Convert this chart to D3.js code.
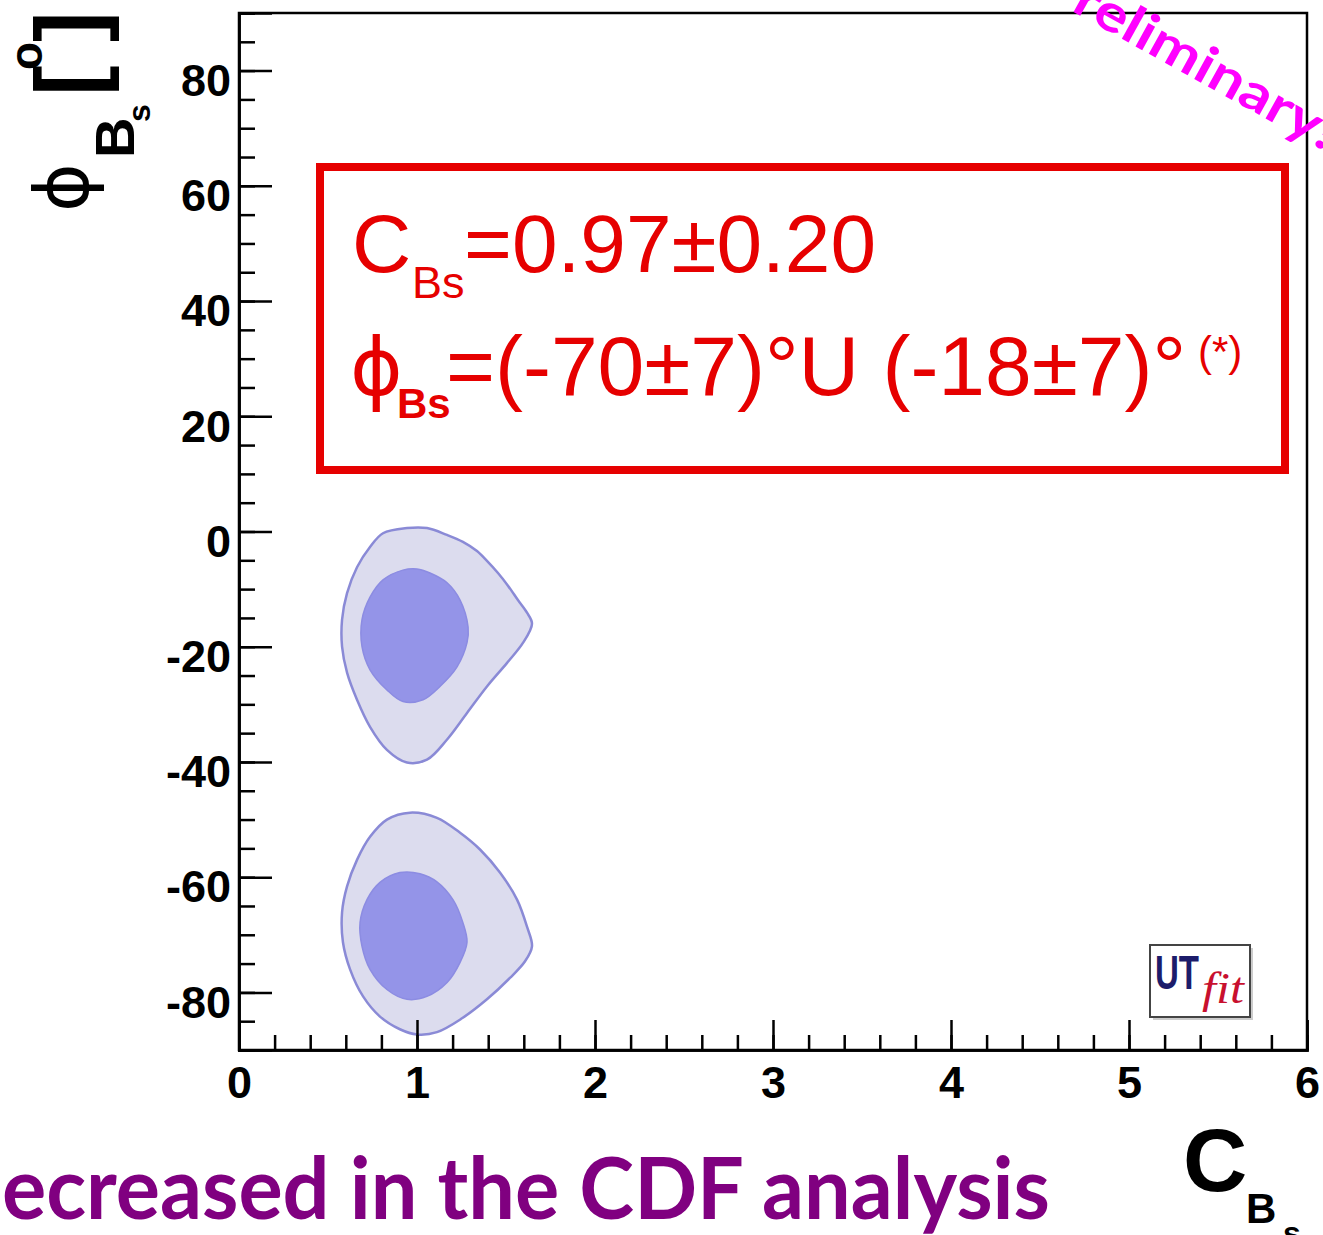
<!DOCTYPE html>
<meta charset="utf-8">
<style>
body { margin: 0; background: #fff; }
svg { display: block; }
.axis text { font-family: "Liberation Sans", Arial, sans-serif; font-weight: bold; font-size: 45px; fill: #000; }
.axis path, .axis line { stroke: #000; stroke-width: 2.5; }
.boxtxt { font-family: "Liberation Sans", Arial, sans-serif; fill: #e60000; }
</style>
<body>
<script src="https://d3js.org/d3.v7.min.js"></script>
<script>
// tick labels
var xTicks = [0, 1, 2, 3, 4, 5, 6];
var yTicks = [-80, -60, -40, -20, 0, 20, 40, 60, 80];

// contour outlines, [C_Bs, phi_Bs]
var upperOuter = [[0.944,0.6],[0.809,-0.3],[0.736,-2.7],[0.663,-6.2],[0.607,-10.7],[0.579,-15.3],[0.579,-20.0],[0.607,-24.5],[0.663,-29.2],[0.736,-33.9],[0.831,-37.9],[0.944,-40.1],[1.056,-39.6],[1.169,-36.1],[1.281,-31.5],[1.393,-26.9],[1.506,-22.8],[1.596,-19.3],[1.646,-16.0],[1.618,-14.1],[1.567,-11.9],[1.511,-9.4],[1.455,-7.2],[1.393,-5.1],[1.337,-3.4],[1.258,-1.8],[1.169,-0.6],[1.056,0.6]];
var upperInner = [[0.921,-6.7],[0.809,-8.4],[0.736,-11.4],[0.691,-15.3],[0.691,-20.0],[0.736,-24.0],[0.831,-27.5],[0.921,-29.5],[1.034,-29.2],[1.129,-26.9],[1.225,-23.5],[1.281,-19.3],[1.287,-16.6],[1.242,-11.9],[1.169,-8.9],[1.073,-7.2],[1.0,-6.5]];
var lowerOuter = [[0.961,-48.8],[0.831,-50.0],[0.736,-53.0],[0.663,-57.0],[0.607,-61.6],[0.579,-66.1],[0.584,-71.3],[0.624,-76.0],[0.697,-80.7],[0.792,-84.2],[0.904,-86.4],[1.0,-87.3],[1.112,-86.9],[1.253,-84.5],[1.393,-81.2],[1.522,-77.5],[1.607,-74.6],[1.646,-72.0],[1.618,-68.6],[1.562,-63.9],[1.466,-59.2],[1.354,-55.2],[1.242,-52.3],[1.112,-49.7]];
var lowerInner = [[0.904,-59.2],[0.792,-60.9],[0.719,-63.9],[0.680,-67.9],[0.691,-72.0],[0.736,-76.0],[0.831,-79.5],[0.944,-81.2],[1.056,-80.7],[1.169,-78.3],[1.242,-74.8],[1.281,-71.3],[1.258,-67.9],[1.202,-63.9],[1.112,-60.8],[1.017,-59.4]];

var W = 1323, H = 1235;
var m = {left: 239, right: 1307, top: 13, bottom: 1050};

var x = d3.scaleLinear().domain([0, 6]).range([m.left, m.right]);
var y = d3.scaleLinear().domain([-90, 90]).range([m.bottom, m.top]);

var svg = d3.select("body").append("svg")
    .attr("width", W)
    .attr("height", H);

// contours
var line = d3.line()
    .x(function(d) { return x(d[0]); })
    .y(function(d) { return y(d[1]); })
    .curve(d3.curveCatmullRomClosed);

[upperOuter, lowerOuter].forEach(function(c) {
  svg.append("path").attr("d", line(c))
    .attr("fill", "#dcdcee").attr("stroke", "#8a8ad6").attr("stroke-width", 2.5);
});
[upperInner, lowerInner].forEach(function(c) {
  svg.append("path").attr("d", line(c))
    .attr("fill", "#9494e8").attr("stroke", "#8c8ce2").attr("stroke-width", 1.5);
});

// frame
svg.append("rect")
    .attr("x", m.left).attr("y", m.top)
    .attr("width", m.right - m.left).attr("height", m.bottom - m.top)
    .attr("fill", "none").attr("stroke", "#000").attr("stroke-width", 2.5);

// minor ticks
svg.append("g").attr("class", "axis")
    .attr("transform", "translate(0," + m.bottom + ")")
    .call(d3.axisBottom(x).ticks(30).tickSize(-15).tickFormat(""));
svg.append("g").attr("class", "axis")
    .attr("transform", "translate(" + m.left + ",0)")
    .call(d3.axisLeft(y).ticks(36).tickSize(-16).tickFormat(""));

// major ticks + labels
svg.append("g").attr("class", "axis")
    .attr("transform", "translate(0," + m.bottom + ")")
    .call(d3.axisBottom(x).tickValues(xTicks).tickSize(-30).tickPadding(16).tickFormat(d3.format("d")));
svg.append("g").attr("class", "axis")
    .attr("transform", "translate(" + m.left + ",0)")
    .call(d3.axisLeft(y).tickValues(yTicks).tickSize(-33).tickPadding(8).tickFormat(function(d) { return String(d); }))
  .selectAll("text").attr("dy", "0.55em").attr("font-size", 46);

svg.selectAll(".axis .domain").attr("stroke-width", 3);

// axis titles
var xt = svg.append("text")
    .attr("font-family", "Liberation Sans, Arial, sans-serif")
    .attr("font-weight", "bold");
xt.append("tspan").attr("x", 1183).attr("y", 1191).attr("font-size", 89).text("C");
xt.append("tspan").attr("x", 1246).attr("y", 1223).attr("font-size", 42).text("B");
xt.append("tspan").attr("x", 1283).attr("y", 1244).attr("font-size", 32).text("s");

var ytt = svg.append("text")
    .attr("transform", "translate(88,210) rotate(-90)")
    .attr("font-family", "Liberation Sans, Arial, sans-serif")
    .attr("font-weight", "bold");
ytt.append("tspan").attr("x", -2).attr("y", 0).attr("font-size", 74)
    .attr("font-family", "DejaVu Sans, sans-serif").attr("font-weight", "normal").text("\u03d5");
ytt.append("tspan").attr("x", 52).attr("y", 46).attr("font-size", 56).text("B");
ytt.append("tspan").attr("x", 88).attr("y", 62).attr("font-size", 32).text("s");
ytt.append("tspan").attr("x", 114).attr("y", 12).attr("font-size", 92).text("[");
ytt.append("tspan").attr("x", 140).attr("y", -46).attr("font-size", 46).text("o");
ytt.append("tspan").attr("x", 168).attr("y", 12).attr("font-size", 92).text("]");

// result box
svg.append("rect")
    .attr("x", 320).attr("y", 167).attr("width", 965).attr("height", 303)
    .attr("fill", "#fff").attr("stroke", "#e60000").attr("stroke-width", 8);

var l1 = svg.append("text").attr("class", "boxtxt");
l1.append("tspan").attr("x", 352).attr("y", 272).attr("font-size", 82).text("C");
l1.append("tspan").attr("x", 412).attr("y", 298).attr("font-size", 45).text("Bs");
l1.append("tspan").attr("x", 464).attr("y", 272).attr("font-size", 82).text("=0.97\u00b10.20");

var l2 = svg.append("text").attr("class", "boxtxt");
l2.append("tspan").attr("x", 350).attr("y", 395).attr("font-size", 80)
    .attr("font-family", "DejaVu Sans, sans-serif").text("\u03d5");
l2.append("tspan").attr("x", 397).attr("y", 418).attr("font-size", 42)
    .attr("font-weight", "bold").text("Bs");
l2.append("tspan").attr("x", 446).attr("y", 395).attr("font-size", 84)
    .attr("textLength", 740).attr("lengthAdjust", "spacing")
    .text("=(-70\u00b17)\u00b0U (-18\u00b17)\u00b0");
l2.append("tspan").attr("x", 1198).attr("y", 366).attr("font-size", 42).text("(*)");

// UTfit logo
var logo = svg.append("g").attr("transform", "translate(1150,945)");
logo.append("rect").attr("x", 3).attr("y", 3).attr("width", 100).attr("height", 72).attr("fill", "#ccc");
logo.append("rect").attr("width", 100).attr("height", 72).attr("fill", "#fff")
    .attr("stroke", "#444").attr("stroke-width", 2);
logo.append("text").attr("x", 5).attr("y", 44)
    .attr("textLength", 44).attr("lengthAdjust", "spacingAndGlyphs")
    .attr("font-family", "Liberation Sans Narrow, Liberation Sans, Arial, sans-serif").attr("font-weight", "bold")
    .attr("font-size", 48).attr("fill", "#1c1c6a").text("UT");
logo.append("text").attr("x", 52).attr("y", 58)
    .attr("textLength", 42).attr("lengthAdjust", "spacingAndGlyphs")
    .attr("font-family", "Liberation Serif, serif").attr("font-style", "italic")
    .attr("font-size", 44).attr("fill", "#c8102e").text("fit");

// overlays
svg.append("text")
    .attr("transform", "translate(1326,152) rotate(29)")
    .attr("text-anchor", "end")
    .attr("textLength", 330).attr("lengthAdjust", "spacingAndGlyphs")
    .attr("font-family", "Lato, sans-serif").attr("font-weight", "bold")
    .attr("font-size", 52).attr("fill", "#ff00ff")
    .text("Preliminary!");

svg.append("text")
    .attr("x", 2).attr("y", 1219)
    .attr("textLength", 1048).attr("lengthAdjust", "spacingAndGlyphs")
    .attr("font-family", "Lato, sans-serif").attr("font-weight", "bold")
    .attr("font-size", 86).attr("fill", "#800080")
    .text("ecreased in the CDF analysis");
</script>
</body>
